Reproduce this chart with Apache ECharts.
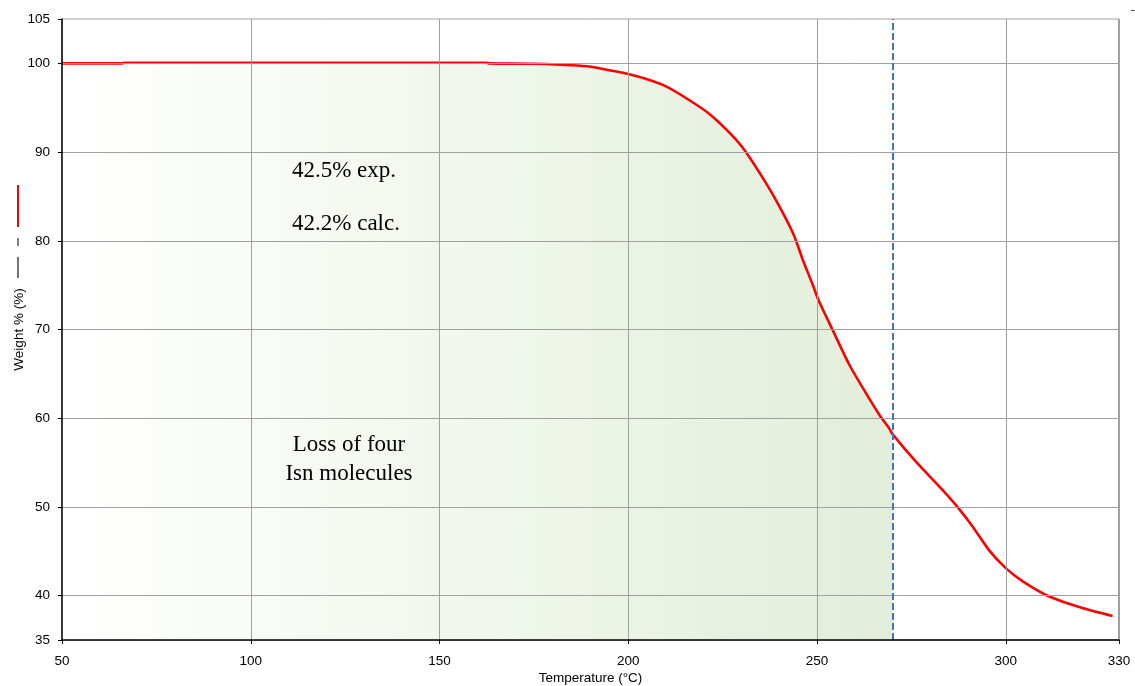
<!DOCTYPE html>
<html>
<head>
<meta charset="utf-8">
<title>TGA curve</title>
<script src="https://cdn.jsdelivr.net/npm/echarts@6/dist/echarts.min.js"></script>
<style>
  html, body { margin: 0; padding: 0; background: #ffffff; }
  #chart { width: 1135px; height: 686px; }
</style>
</head>
<body>
<div id="chart"></div>
<script>
// Thermogravimetric trace: temperature (°C) vs remaining weight (%)
const temperature = [
  50, 66, 66.5, 100, 150, 162.5, 163, 175, 182, 189, 193, 200, 205, 210, 216,
  221.5, 227, 231, 236.5, 240, 243.8, 246.2, 249, 250.2, 254.2, 258.6, 263,
  266.5, 269.2, 270, 276.2, 283.3, 287.2, 291.2, 295.6, 300, 304.5, 311.5,
  320.3, 328.3
];
const weight = [
  100.0, 100.0, 100.07, 100.07, 100.07, 100.07, 100.0, 99.95, 99.85, 99.68, 99.4,
  98.8, 98.2, 97.4, 95.9, 94.3, 92.1, 90.1, 86.5, 83.9, 80.7, 77.9, 74.9, 73.5,
  69.9, 66.0, 62.8, 60.4, 58.8, 58.2, 55.1, 51.9, 50.0, 47.8, 45.1, 43.1, 41.6,
  39.9, 38.6, 37.7
];

// Upper bound of the first decomposition step (shaded region + dashed marker)
const stepEnd = 270;

// Axis tick labels and grid lines
const xTicks = [50, 100, 150, 200, 250, 300, 330];
const yTicks = [35, 40, 50, 60, 70, 80, 90, 100, 105];
const xGridLines = [100, 150, 200, 250, 300];
const yGridLines = [40, 50, 60, 70, 80, 90, 100];

// Annotation texts
const massLossLines = ['42.5% exp.', '42.2% calc.'];
const stepLabelLines = ['Loss of four', 'Isn molecules'];

const curve = temperature.map((t, i) => [t, weight[i]]);
const stepArea = curve.filter(p => p[0] <= stepEnd);

const sansFont = '"Liberation Sans", Arial, sans-serif';
const serifFont = '"Liberation Serif", "Times New Roman", serif';
const gridGray = '#a0a0a0';

const chart = echarts.init(document.getElementById('chart'), null, { renderer: 'canvas' });

const serifText = (txt, x, y) => ({
  type: 'text', x: x, y: y, z: 100,
  style: {
    text: txt, font: '23px ' + serifFont, fill: '#000',
    textAlign: 'center', textVerticalAlign: 'middle'
  }
});

chart.setOption({
  animation: false,
  backgroundColor: '#ffffff',
  grid: {
    left: 62, right: 16, top: 19, bottom: 46,
    containLabel: false, outerBoundsMode: 'none',
    show: true, borderColor: gridGray, borderWidth: 1,
    backgroundColor: 'transparent'
  },
  xAxis: {
    type: 'value', min: 50, max: 330, interval: 10, z: 10,
    name: 'Temperature (°C)', nameLocation: 'middle', nameGap: 31, nameMoveOverlap: false,
    nameTextStyle: { fontFamily: sansFont, fontSize: 13.5, color: '#000' },
    axisLine: { show: true, onZero: false, lineStyle: { color: '#000', width: 1.5 } },
    axisTick: { show: true, length: 4, customValues: xTicks, lineStyle: { color: '#000' } },
    axisLabel: {
      customValues: xTicks, margin: 14,
      fontFamily: sansFont, fontSize: 13.5, color: '#000'
    },
    splitLine: { show: false }
  },
  yAxis: {
    type: 'value', min: 35, max: 105, interval: 5, z: 10,
    name: 'Weight % (%)', nameLocation: 'middle', nameGap: 36, nameRotate: 90,
    nameMoveOverlap: false,
    nameTextStyle: { fontFamily: sansFont, fontSize: 13.5, color: '#000' },
    axisLine: { show: true, onZero: false, lineStyle: { color: '#000', width: 1.5 } },
    axisTick: { show: true, length: 4, customValues: yTicks, lineStyle: { color: '#000' } },
    axisLabel: {
      customValues: yTicks, margin: 12,
      fontFamily: sansFont, fontSize: 13.5, color: '#000'
    },
    splitLine: { show: false }
  },
  series: [
    {
      // shaded first mass-loss step
      name: 'step', type: 'line', z: 1,
      data: stepArea, showSymbol: false, silent: true,
      lineStyle: { width: 0 },
      areaStyle: {
        origin: 'start', opacity: 1,
        color: new echarts.graphic.LinearGradient(0, 0, 1, 0, [
          { offset: 0, color: '#ffffff' },
          { offset: 1, color: '#e2eed9' }
        ])
      }
    },
    {
      // grid lines drawn over the shading
      name: 'grid', type: 'line', z: 2, data: [], silent: true,
      markLine: {
        silent: true, symbol: ['none', 'none'], label: { show: false },
        lineStyle: { color: gridGray, width: 1, type: 'solid' },
        emphasis: { disabled: true },
        data: xGridLines.map(v => ({ xAxis: v }))
          .concat(yGridLines.map(v => ({ yAxis: v })))
          .concat([{ xAxis: 330, lineStyle: { width: 2 } }])
      }
    },
    {
      name: 'Weight %', type: 'line', z: 3,
      data: curve, showSymbol: false, smooth: 0.25, silent: true,
      lineStyle: { color: '#ff0000', width: 2.6 }
    },
    {
      name: 'cutoff', type: 'line', z: 4, data: [], silent: true,
      markLine: {
        silent: true, symbol: ['none', 'none'], label: { show: false },
        emphasis: { disabled: true },
        lineStyle: { color: '#4472c4', width: 2, type: [7, 3] },
        data: [{ xAxis: stepEnd }]
      }
    }
  ],
  graphic: [
    serifText(massLossLines[0], 344, 171),
    serifText(massLossLines[1], 346, 224),
    serifText(stepLabelLines[0], 349, 445),
    serifText(stepLabelLines[1], 349, 474),
    // series key drawn alongside the y-axis title
    { type: 'line', z: 100, shape: { x1: 18, y1: 185, x2: 18, y2: 227 },
      style: { stroke: '#ff0000', lineWidth: 2 } },
    { type: 'line', z: 100, shape: { x1: 18, y1: 238, x2: 18, y2: 246 },
      style: { stroke: '#555555', lineWidth: 1.5 } },
    { type: 'line', z: 100, shape: { x1: 18, y1: 257, x2: 18, y2: 278 },
      style: { stroke: '#444444', lineWidth: 1.5 } },
    { type: 'line', z: 100, shape: { x1: 1131, y1: 10.5, x2: 1135, y2: 10.5 },
      style: { stroke: '#555555', lineWidth: 1 } }
  ]
});
</script>
</body>
</html>
